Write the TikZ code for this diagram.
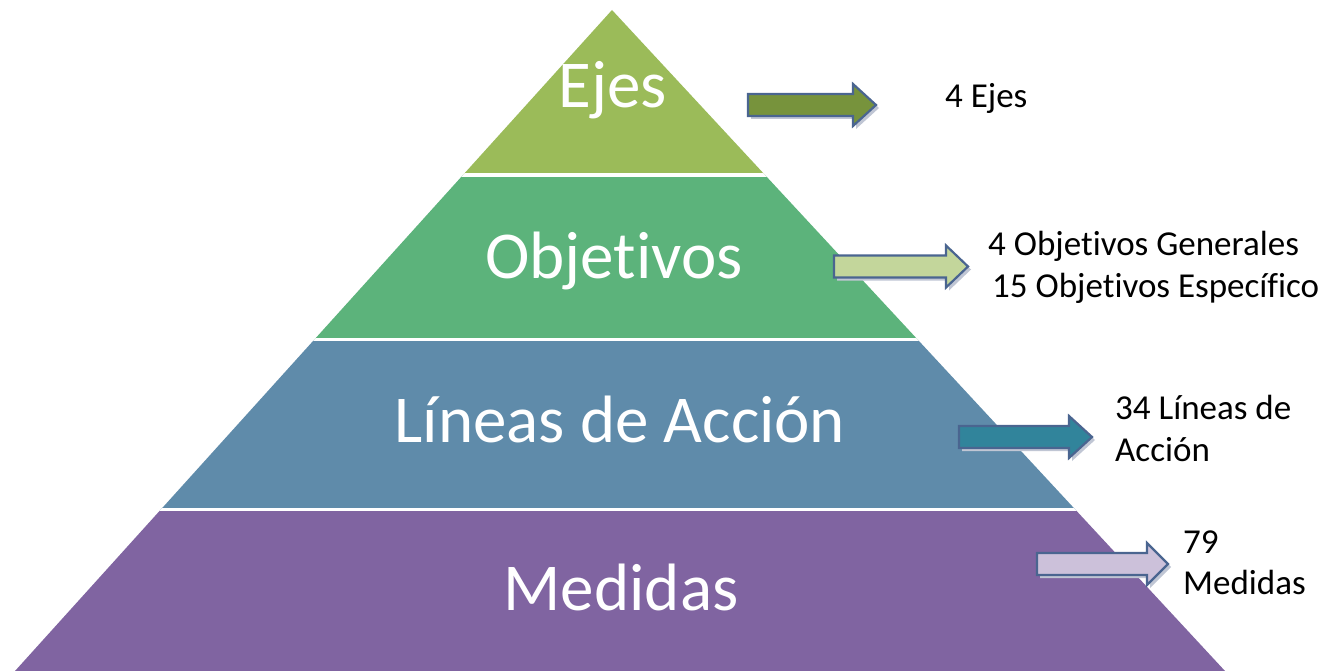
\documentclass[tikz,border=0pt]{standalone}
\usepackage{fontspec}
\setmainfont[Ligatures={NoCommon}]{Carlito}
\definecolor{ejesc}{HTML}{9BBB59}
\definecolor{objc}{HTML}{5CB37B}
\definecolor{linc}{HTML}{5F8BAA}
\definecolor{medc}{HTML}{8064A1}
\definecolor{arA}{HTML}{77933C}
\definecolor{arB}{HTML}{C3D69B}
\definecolor{arC}{HTML}{31849B}
\definecolor{arD}{HTML}{CCC1DA}
\definecolor{arline}{HTML}{4A6590}
\definecolor{arshadow}{HTML}{C0C6D4}
\newcommand\blkarrow[5]{%
  \fill[arrowshadow,shift={(3,3)}] (#1,#4-11) -- (#2,#4-11) -- (#2,#4-21) -- (#3,#4) -- (#2,#4+21) -- (#2,#4+11) -- (#1,#4+11) -- cycle;
  \draw[arrowline,fill=#5] (#1,#4-11) -- (#2,#4-11) -- (#2,#4-21) -- (#3,#4) -- (#2,#4+21) -- (#2,#4+11) -- (#1,#4+11) -- cycle;}
\tikzset{
  arrowline/.style={draw=arline,line width=2.2pt,line join=miter},
  arrowshadow/.style={fill=arshadow},
  mainlabel/.style={text=white,font=\fontsize{67}{80}\selectfont,anchor=base,inner sep=0pt},
  sidelabel/.style={text=black,font=\fontsize{35}{42}\selectfont,anchor=base west,inner sep=0pt,align=left},
  sep/.style={white,line width=3.5pt}
}
\begin{document}
\begin{tikzpicture}[x=1pt,y=-1pt]
\useasboundingbox (0,0) rectangle (1322,671);
\fill[white] (0,0) rectangle (1322,671);
\coordinate (apex) at (612,10);
\coordinate (bl) at (15,671);
\coordinate (br) at (1225,671);
\begin{scope}
  \clip (apex) -- (br) -- (bl) -- cycle;
  \fill[ejesc] (0,0) rectangle (1322,175);
  \fill[objc] (0,175) rectangle (1322,339.5);
  \fill[linc] (0,339.5) rectangle (1322,509.5);
  \fill[medc] (0,509.5) rectangle (1322,672);
  \draw[sep] (0,175) -- (1322,175);
  \draw[sep] (0,339.5) -- (1322,339.5);
  \draw[sep] (0,509.5) -- (1322,509.5);
\end{scope}
\node[mainlabel] (ejes) at (613,108) {Ejes};
\node[mainlabel] (obj) at (614,278) {Objetivos};
\node[mainlabel] (lin) at (620,442) {Líneas de Acción};
\node[mainlabel] (med) at (621,610) {Medidas};
\blkarrow{748}{853}{876}{105}{arA}
\blkarrow{834}{946}{968}{266.5}{arB}
\blkarrow{959}{1069}{1092}{437}{arC}
\blkarrow{1037}{1147}{1168}{564}{arD}
\node[sidelabel] (t1) at (945,108) {4 Ejes};
\node[sidelabel] (t2) at (988,255) {4 Objetivos Generales};
\node[sidelabel] (t2b) at (992,297) {15 Objetivos Específico};
\node[sidelabel] (t3) at (1115,419) {34 Líneas de};
\node[sidelabel] (t3b) at (1115,461) {Acción};
\node[sidelabel] (t4) at (1183,553) {79};
\node[sidelabel] (t4b) at (1183,594) {Medidas};
\end{tikzpicture}
\end{document}
